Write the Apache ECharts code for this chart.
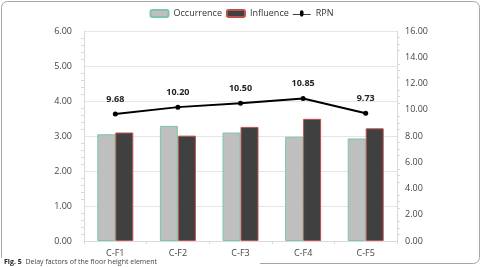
<!DOCTYPE html>
<html lang="en">
<head>
    <meta charset="UTF-8">
    <title>Delay factors</title>
    <script src="https://cdn.jsdelivr.net/npm/echarts@6/dist/echarts.min.js"></script>
    <style>
        html, body { margin: 0; padding: 0; background: #fff; }
    </style>
</head>
<body>
<div id="main" style="width:483px;height:267px;"></div>
<script>
    var categories = ['C-F1', 'C-F2', 'C-F3', 'C-F4', 'C-F5'];
    var occurrence = [3.05, 3.29, 3.10, 2.98, 2.93];
    var influence = [3.10, 3.01, 3.26, 3.49, 3.22];
    var rpn = [9.68, 10.20, 10.50, 10.85, 9.73];

    var font = 'Open Sans';
    var myChart = echarts.init(document.getElementById('main'));

    var option = {
        backgroundColor: '#fff',
        animation: false,
        textStyle: { fontFamily: font },
        legend: {
            top: 4,
            left: 'center',
            itemGap: 4,
            itemWidth: 18,
            itemHeight: 7,
            textStyle: { fontSize: 9, color: '#333', fontFamily: font },
            data: [
                { name: 'Occurrence' },
                { name: 'Influence' },
                { name: 'RPN', icon: 'path://M0,4 L8,4 L8,2 A2,2 0 1,1 12,2 L12,4 L20,4 L20,5 L12,5 A2,2 0 1,1 8,5 L0,5 Z' }
            ]
        },
        grid: { left: 84, right: 86, top: 31, bottom: 26 },
        xAxis: {
            type: 'category',
            data: categories,
            axisLine: { lineStyle: { color: '#d9d9d9' } },
            axisTick: { show: true, length: 3, lineStyle: { color: '#d9d9d9' } },
            axisLabel: { fontSize: 9, color: '#444', margin: 8 }
        },
        yAxis: [
            {
                type: 'value', min: 0, max: 6, interval: 1,
                axisLine: { show: true, lineStyle: { color: '#d9d9d9' } },
                axisTick: { show: false },
                minorTick: { show: true, splitNumber: 5, length: 3, lineStyle: { color: '#d9d9d9' } },
                splitLine: { lineStyle: { color: '#e6e6e6' } },
                axisLabel: {
                    fontSize: 9, color: '#444', margin: 12,
                    formatter: function (v) { return v.toFixed(2); }
                }
            },
            {
                type: 'value', min: 0, max: 16, interval: 2,
                axisLine: { show: true, lineStyle: { color: '#d9d9d9' } },
                axisTick: { show: false },
                minorTick: { show: true, splitNumber: 4, length: 3, lineStyle: { color: '#d9d9d9' } },
                splitLine: { show: false },
                axisLabel: {
                    fontSize: 9, color: '#444', margin: 8,
                    formatter: function (v) { return v.toFixed(2); }
                }
            }
        ],
        series: [
            {
                name: 'Occurrence', type: 'bar', data: occurrence,
                barWidth: 18, barGap: '0%',
                itemStyle: { color: '#bfbfbf', borderColor: '#7cc8a6', borderWidth: 1 }
            },
            {
                name: 'Influence', type: 'bar', data: influence,
                barWidth: 18,
                itemStyle: { color: '#404040', borderColor: '#c0504d', borderWidth: 1 }
            },
            {
                name: 'RPN', type: 'line', yAxisIndex: 1, data: rpn,
                symbol: 'circle', symbolSize: 5,
                lineStyle: { color: '#000', width: 2 },
                itemStyle: { color: '#000' },
                label: {
                    show: true, position: 'top', distance: 8,
                    fontSize: 9, fontWeight: 'bold', color: '#222',
                    formatter: function (p) { return p.value.toFixed(2); }
                }
            }
        ],
        graphic: [
            {
                type: 'rect',
                shape: { x: 1.5, y: 1.5, width: 478, height: 262, r: 6 },
                style: { fill: null, stroke: '#a6a6a6', lineWidth: 1 },
                silent: true
            },
            {
                type: 'rect',
                shape: { x: 0, y: 258, width: 260, height: 9 },
                style: { fill: '#fff' },
                silent: true
            },
            {
                type: 'text', left: 4, top: 258,
                style: {
                    rich: {
                        b: { fontWeight: 'bold', fontSize: 7, fontFamily: font, fill: '#222' },
                        n: { fontSize: 7, fontFamily: font, fill: '#444' }
                    },
                    text: '{b|Fig. 5}{n|  Delay factors of the floor height element}'
                }
            }
        ]
    };

    myChart.setOption(option);
</script>
</body>
</html>
